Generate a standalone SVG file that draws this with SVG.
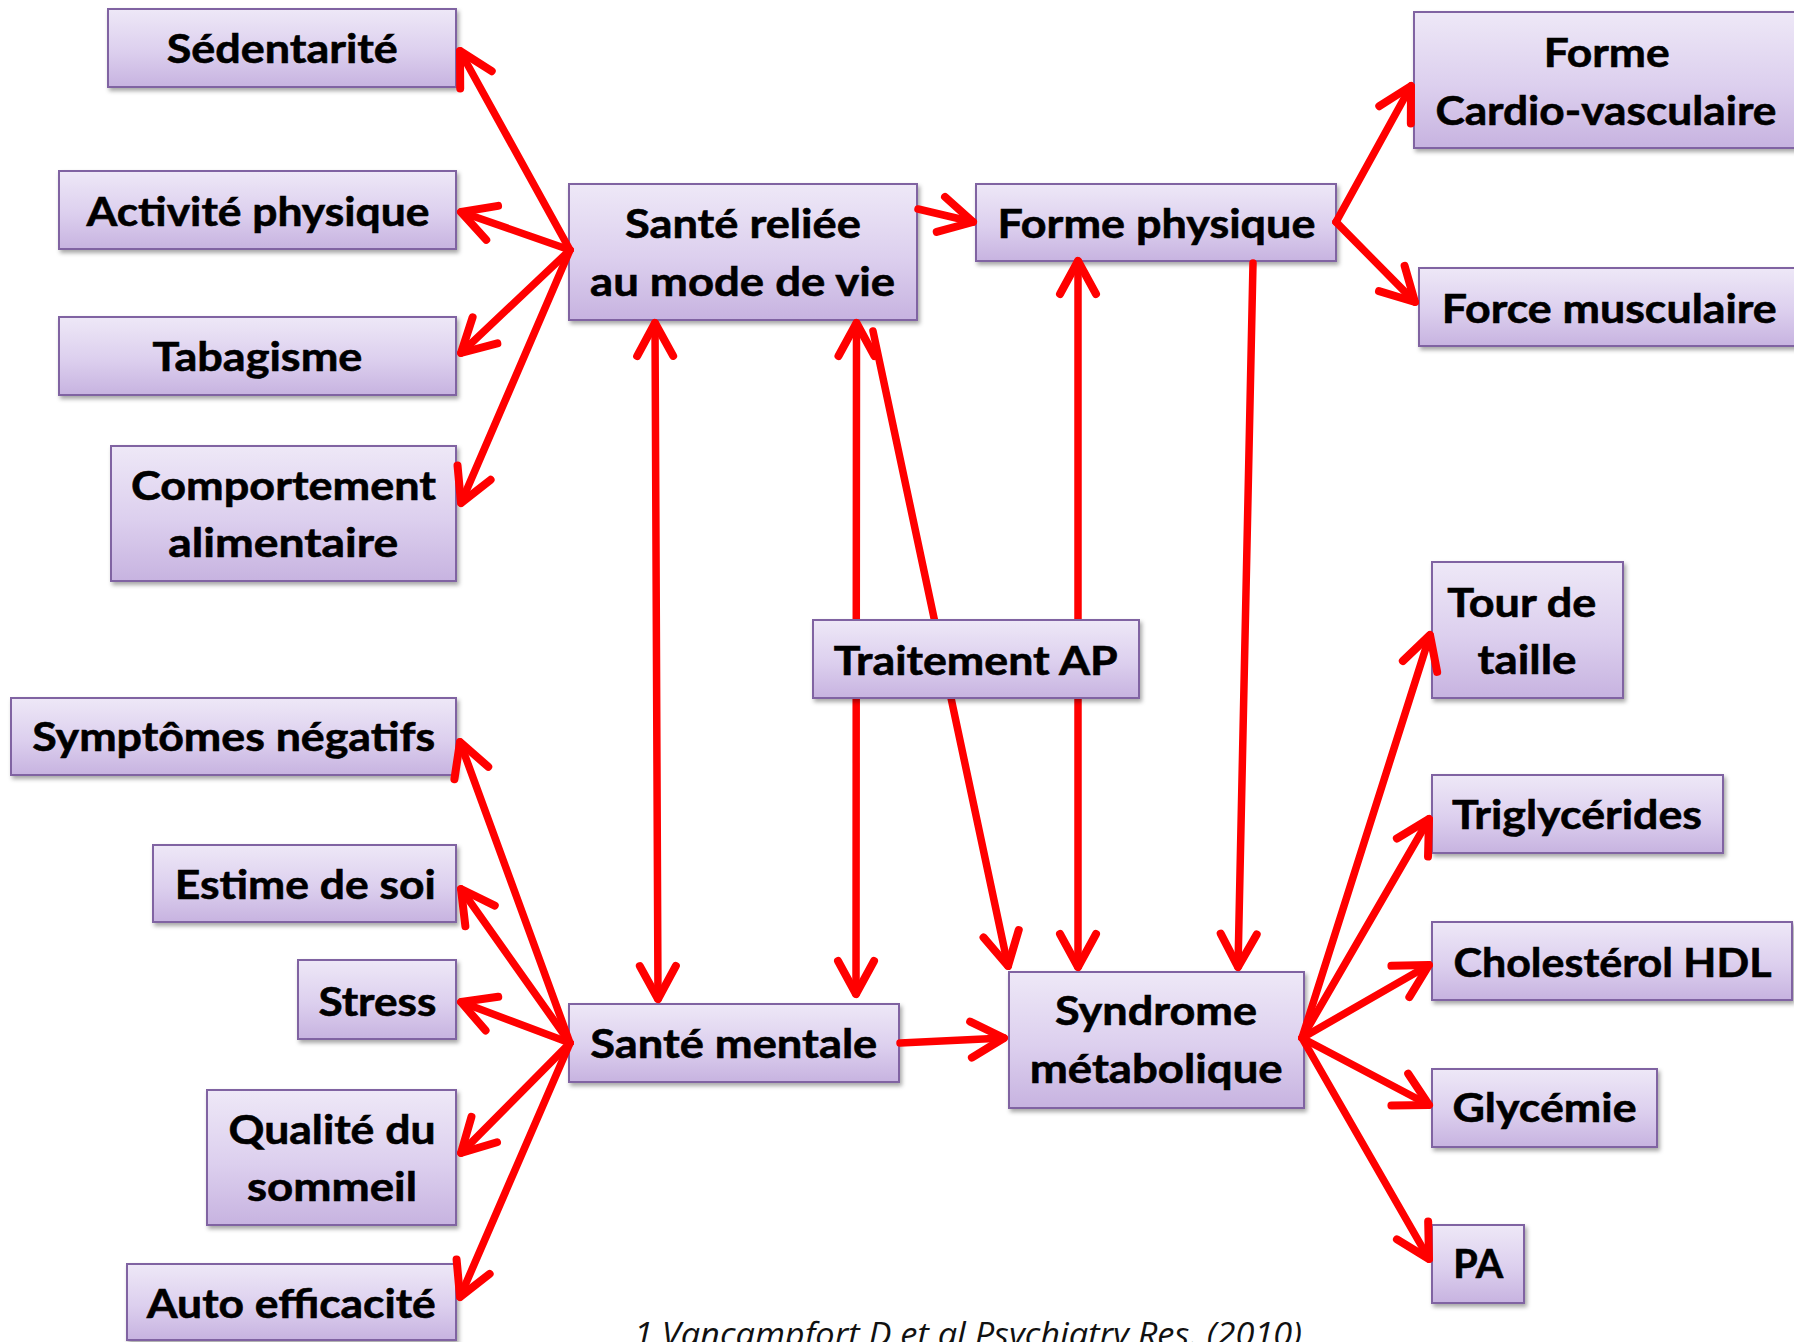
<svg xmlns="http://www.w3.org/2000/svg" width="1794" height="1342" viewBox="0 0 1794 1342">
<defs>
<linearGradient id="boxfill" x1="0" y1="0" x2="0" y2="1">
<stop offset="0" stop-color="#EEE8F7"/>
<stop offset="0.55" stop-color="#DCCFEE"/>
<stop offset="1" stop-color="#C7B3E0"/>
</linearGradient>
<filter id="shadow" x="-10%" y="-10%" width="130%" height="140%">
<feDropShadow dx="2" dy="3" stdDeviation="2" flood-color="#000" flood-opacity="0.35"/>
</filter>
<marker id="arrow" markerUnits="userSpaceOnUse" viewBox="-40 -25 50 50" refX="0" refY="0" markerWidth="50" markerHeight="50" orient="auto-start-reverse" overflow="visible">
<path d="M -33 -18 L 0 0 L -33 18" fill="none" stroke="#FF0000" stroke-width="8" stroke-linecap="round" stroke-linejoin="round"/>
</marker>
</defs>
<style>
.box{fill:url(#boxfill);stroke:#8064A2;stroke-width:2;filter:url(#shadow)}
.lbl{font-family:Lato,"Liberation Sans",sans-serif;font-weight:bold;font-size:41px;fill:#000;text-anchor:middle;stroke:#000;stroke-width:0.6}
.c line{stroke:#FF0000;stroke-width:7.5;stroke-linecap:round;fill:none}
.cite{font-family:"Open Sans","Liberation Sans",sans-serif;font-style:italic;font-size:32px;fill:#111}
</style>
<rect width="1794" height="1342" fill="#FFFFFF"/>

<g id="n-sedentarite"><rect class="box" x="108" y="9" width="348" height="78"/><text class="lbl" x="282.3" y="63.3" textLength="231" lengthAdjust="spacingAndGlyphs">Sédentarité</text></g>
<g id="n-activite"><rect class="box" x="59" y="171" width="397" height="78"/><text class="lbl" x="258" y="226" textLength="343" lengthAdjust="spacingAndGlyphs">Activité physique</text></g>
<g id="n-tabagisme"><rect class="box" x="59" y="317" width="397" height="78"/><text class="lbl" x="257.4" y="370.7" textLength="210" lengthAdjust="spacingAndGlyphs">Tabagisme</text></g>
<g id="n-comportement"><rect class="box" x="111" y="446" width="345" height="135"/><text class="lbl" x="283.5" y="500" textLength="305" lengthAdjust="spacingAndGlyphs">Comportement</text><text class="lbl" x="283.2" y="557" textLength="230" lengthAdjust="spacingAndGlyphs">alimentaire</text></g>
<g id="n-sante-reliee"><rect class="box" x="569" y="184" width="348" height="136"/><text class="lbl" x="742.9" y="238.3" textLength="236" lengthAdjust="spacingAndGlyphs">Santé reliée</text><text class="lbl" x="742.6" y="295.7" textLength="305" lengthAdjust="spacingAndGlyphs">au mode de vie</text></g>
<g id="n-forme-physique"><rect class="box" x="976" y="184" width="360" height="77"/><text class="lbl" x="1156.4" y="238.3" textLength="318" lengthAdjust="spacingAndGlyphs">Forme physique</text></g>
<g id="n-cardio"><rect class="box" x="1414" y="12" width="390" height="136"/><text class="lbl" x="1606.7" y="66.7" textLength="126" lengthAdjust="spacingAndGlyphs">Forme</text><text class="lbl" x="1605.9" y="125" textLength="341" lengthAdjust="spacingAndGlyphs">Cardio-vasculaire</text></g>
<g id="n-force"><rect class="box" x="1419" y="268" width="385" height="78"/><text class="lbl" x="1609.2" y="322.7" textLength="335" lengthAdjust="spacingAndGlyphs">Force musculaire</text></g>
<g id="n-symptomes"><rect class="box" x="11" y="698" width="445" height="77"/><text class="lbl" x="233.7" y="751" textLength="403" lengthAdjust="spacingAndGlyphs">Symptômes négatifs</text></g>
<g id="n-estime"><rect class="box" x="153" y="845" width="303" height="77"/><text class="lbl" x="305.2" y="898.7" textLength="261" lengthAdjust="spacingAndGlyphs">Estime de soi</text></g>
<g id="n-stress"><rect class="box" x="298" y="960" width="158" height="79"/><text class="lbl" x="377.4" y="1015.6" textLength="118" lengthAdjust="spacingAndGlyphs">Stress</text></g>
<g id="n-sommeil"><rect class="box" x="207" y="1090" width="249" height="135"/><text class="lbl" x="332" y="1143.5" textLength="207" lengthAdjust="spacingAndGlyphs">Qualité du</text><text class="lbl" x="332" y="1200.5" textLength="170" lengthAdjust="spacingAndGlyphs">sommeil</text></g>
<g id="n-auto"><rect class="box" x="127" y="1264" width="329" height="76"/><text class="lbl" x="291.3" y="1318.3" textLength="289" lengthAdjust="spacingAndGlyphs">Auto efficacité</text></g>
<g id="n-sante-mentale"><rect class="box" x="569" y="1004" width="330" height="78"/><text class="lbl" x="733.8" y="1058.3" textLength="287" lengthAdjust="spacingAndGlyphs">Santé mentale</text></g>
<g id="n-syndrome"><rect class="box" x="1009" y="972" width="295" height="136"/><text class="lbl" x="1156" y="1025" textLength="202" lengthAdjust="spacingAndGlyphs">Syndrome</text><text class="lbl" x="1156.2" y="1082.7" textLength="253" lengthAdjust="spacingAndGlyphs">métabolique</text></g>
<g id="n-tour"><rect class="box" x="1432" y="562" width="191" height="136"/><text class="lbl" x="1521.7" y="617.3" textLength="149" lengthAdjust="spacingAndGlyphs">Tour de</text><text class="lbl" x="1527" y="674" textLength="99" lengthAdjust="spacingAndGlyphs">taille</text></g>
<g id="n-trigly"><rect class="box" x="1432" y="775" width="291" height="78"/><text class="lbl" x="1577" y="829.3" textLength="250" lengthAdjust="spacingAndGlyphs">Triglycérides</text></g>
<g id="n-cholesterol"><rect class="box" x="1432" y="922" width="360" height="78"/><text class="lbl" x="1612.5" y="977.3" textLength="318" lengthAdjust="spacingAndGlyphs">Cholestérol HDL</text></g>
<g id="n-glycemie"><rect class="box" x="1432" y="1069" width="225" height="78"/><text class="lbl" x="1544.5" y="1121.7" textLength="184" lengthAdjust="spacingAndGlyphs">Glycémie</text></g>
<g id="n-pa"><rect class="box" x="1432" y="1225" width="92" height="78"/><text class="lbl" x="1478.2" y="1278.3" textLength="50" lengthAdjust="spacingAndGlyphs">PA</text></g>

<g id="connectors" class="c">
<line x1="570" y1="250" x2="460" y2="51" marker-end="url(#arrow)"/>
<line x1="570" y1="250" x2="461" y2="212" marker-end="url(#arrow)"/>
<line x1="570" y1="250" x2="461" y2="353" marker-end="url(#arrow)"/>
<line x1="570" y1="250" x2="461" y2="503" marker-end="url(#arrow)"/>
<line x1="570" y1="1043" x2="460" y2="742" marker-end="url(#arrow)"/>
<line x1="570" y1="1043" x2="461" y2="889" marker-end="url(#arrow)"/>
<line x1="570" y1="1043" x2="461" y2="1002" marker-end="url(#arrow)"/>
<line x1="570" y1="1043" x2="461" y2="1153" marker-end="url(#arrow)"/>
<line x1="570" y1="1043" x2="460" y2="1297" marker-end="url(#arrow)"/>
<line x1="918" y1="209" x2="973" y2="222" marker-end="url(#arrow)"/>
<line x1="1336" y1="222" x2="1411" y2="86" marker-end="url(#arrow)"/>
<line x1="1336" y1="222" x2="1415" y2="302" marker-end="url(#arrow)"/>
<line x1="1302" y1="1038" x2="1430" y2="635" marker-end="url(#arrow)"/>
<line x1="1302" y1="1038" x2="1429" y2="819" marker-end="url(#arrow)"/>
<line x1="1302" y1="1038" x2="1429" y2="965" marker-end="url(#arrow)"/>
<line x1="1302" y1="1038" x2="1429" y2="1105" marker-end="url(#arrow)"/>
<line x1="1302" y1="1038" x2="1429" y2="1259" marker-end="url(#arrow)"/>
<line x1="900" y1="1043" x2="1004" y2="1038" marker-end="url(#arrow)"/>
<line x1="655" y1="323" x2="658" y2="999" marker-start="url(#arrow)" marker-end="url(#arrow)"/>
<line x1="856.5" y1="323" x2="856" y2="994" marker-start="url(#arrow)" marker-end="url(#arrow)"/>
<line x1="1078" y1="261" x2="1078" y2="967" marker-start="url(#arrow)" marker-end="url(#arrow)"/>
<line x1="873" y1="331" x2="1008" y2="966" marker-end="url(#arrow)"/>
<line x1="1253" y1="263" x2="1238" y2="967" marker-end="url(#arrow)"/>
</g>

<g id="n-traitement"><rect class="box" x="813" y="620" width="326" height="78"/><text class="lbl" x="975.8" y="675" textLength="284" lengthAdjust="spacingAndGlyphs">Traitement AP</text></g>

<text class="cite" x="634" y="1346" textLength="668" lengthAdjust="spacingAndGlyphs">1 Vancampfort D et al Psychiatry Res. (2010)</text>
</svg>
